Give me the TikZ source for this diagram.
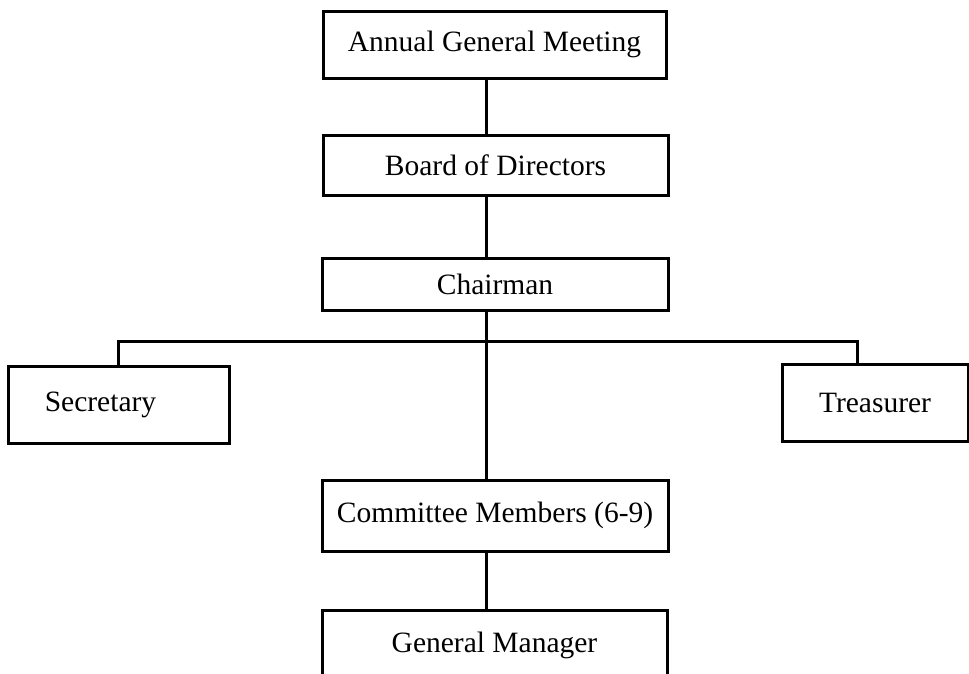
\documentclass[tikz,border=0pt]{standalone}
\usepackage{fontspec}
\setmainfont{Liberation Serif}
\begin{document}
\begin{tikzpicture}[x=1pt,y=-1pt,
  orgbox/.style={draw=black, line width=3pt, fill=white, rectangle, inner sep=0pt,
    font=\fontsize{29.5}{34}\selectfont},
  link/.style={draw=black, line width=3pt}]
  \useasboundingbox (0,0) rectangle (969,673);

  % positions of the offices
  \node[orgbox, minimum width=343pt, minimum height=67pt] (agm) at (494.5,44.5) {\raisebox{-4pt}{Annual General Meeting}};
  \node[orgbox, minimum width=345pt, minimum height=60pt] (board) at (495.5,165) {Board of Directors};
  \node[orgbox, minimum width=346pt, minimum height=52pt] (chair) at (495,284) {Chairman};
  \node[orgbox, minimum width=221pt, minimum height=77pt] (sec) at (118.5,404.5) {\hspace*{-36pt}Secretary};
  \node[orgbox, minimum width=186pt, minimum height=77pt] (tre) at (875,402.5) {Treasurer};
  \node[orgbox, minimum width=346pt, minimum height=71pt] (comm) at (495,515.5) {Committee Members (6-9)};
  \node[orgbox, minimum width=345pt, minimum height=70pt] (gm) at (494.5,645) {General Manager};

  % vertical spine and branch bus
  \coordinate (spine) at (486,0);
  \coordinate (tredrop) at (857,341);

  \draw[link] (agm.south -| spine) -- (board.north -| spine);
  \draw[link] (board.south -| spine) -- (chair.north -| spine);
  \draw[link] (chair.south -| spine) -- (comm.north -| spine);
  \draw[link] (comm.south -| spine) -- (gm.north -| spine);
  \draw[link] (sec.north) |- (tredrop) -- (tredrop |- tre.north);
\end{tikzpicture}
\end{document}
